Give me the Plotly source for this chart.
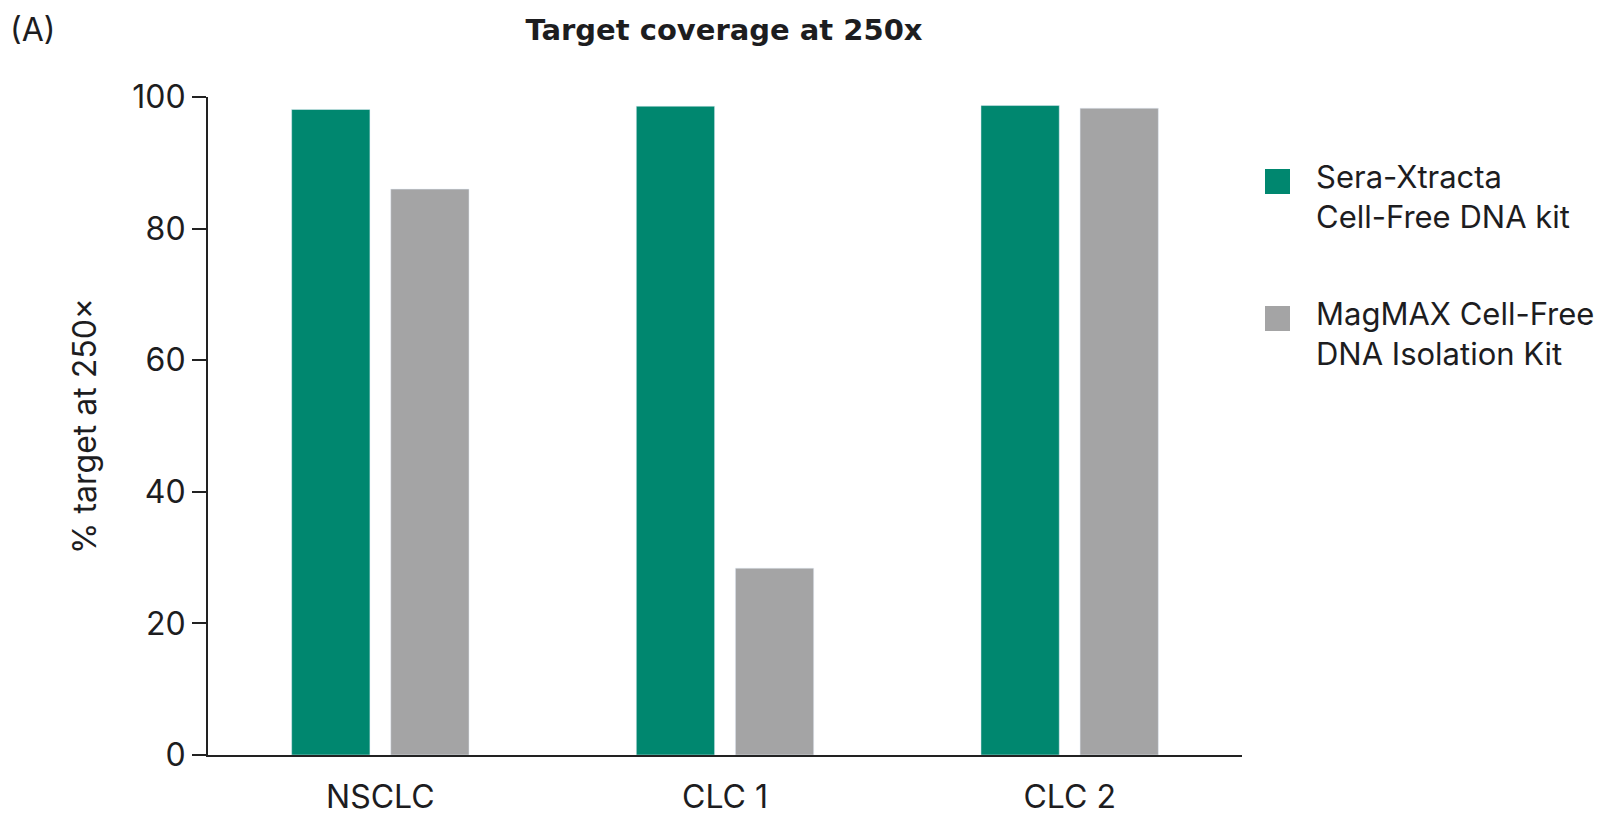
import plotly.graph_objects as go

samples = ["NSCLC", "CLC 1", "CLC 2"]
sera_xtracta = [98.1, 98.6, 98.7]
magmax = [86.0, 28.4, 98.3]
kit_names = ["Sera-Xtracta<br>Cell-Free DNA kit", "MagMAX Cell-Free<br>DNA Isolation Kit"]
kit_colors = ["#00876f", "#a4a4a5"]

FONT = "Inter"
TXT = "#1d1d1f"

fig = go.Figure()
fig.add_trace(go.Bar(x=samples, y=sera_xtracta, name=kit_names[0],
                     marker_color=kit_colors[0], showlegend=False))
fig.add_trace(go.Bar(x=samples, y=magmax, name=kit_names[1],
                     marker_color=kit_colors[1], showlegend=False))

# legend drawn by hand so the squares can be as big as in the original
legend_top = [161, 298]
for name, col, top in zip(kit_names, kit_colors, legend_top):
    fig.add_shape(type="rect", xref="paper", yref="paper",
                  x0=(1257 - 200) / 1034, x1=(1282 - 200) / 1034,
                  y0=(747 - top) / 658, y1=(747 - top - 25) / 658,
                  fillcolor=col, line_width=0)
    fig.add_annotation(text=name, xref="paper", yref="paper",
                       x=(1306 - 200) / 1034, y=(747 - top + 13) / 658,
                       xanchor="left", yanchor="top", align="left", showarrow=False,
                       font=dict(family=FONT, size=31, color=TXT))

fig.add_annotation(text="(A)", xref="paper", yref="paper", x=(0 - 200) / 1034,
                   y=(747 - 0) / 658, xanchor="left", yanchor="top", showarrow=False,
                   font=dict(family=FONT, size=32, color=TXT))

fig.update_layout(
    width=1608, height=820,
    margin=dict(l=200, r=374, t=89, b=73),
    paper_bgcolor="white", plot_bgcolor="white",
    barmode="group", bargap=0.425, bargroupgap=0.21,
    font=dict(family=FONT, size=32, color=TXT),
    title=dict(text="<b>Target coverage at 250x</b>", x=716 / 1608, xanchor="center",
               y=1 - 22 / 820, yanchor="middle",
               font=dict(family="DejaVu Sans", size=29, color=TXT)),
)
fig.update_xaxes(showline=True, linecolor="#222222", linewidth=2, ticks="",
                 ticklabelstandoff=13, showgrid=False, automargin=False)
fig.update_yaxes(range=[0, 100], dtick=20, showline=True, linecolor="#222222", linewidth=2,
                 ticks="outside", ticklen=14, tickwidth=2, tickcolor="#222222",
                 showgrid=False, zeroline=False, automargin=False,
                 title=dict(text="% target at 250×", standoff=26, font=dict(size=32)))

fig.write_html("out.html")
